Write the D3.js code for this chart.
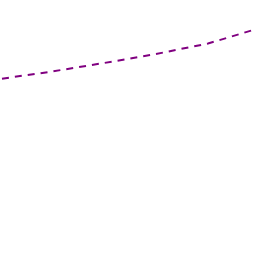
<!DOCTYPE html>
<html>
<head>
<meta charset="utf-8">
<script src="https://cdn.jsdelivr.net/npm/d3@7"></script>
<style>
  body { margin: 0; background: #fff; }
  svg { display: block; }
</style>
</head>
<body>
<svg width="256" height="256"></svg>
<script>
var xs = [0, 1, 2, 3, 4, 5];
var values = [17.7, 18.45, 19.3, 20.2, 21.25, 22.8];

var svg = d3.select("svg"),
    width = +svg.attr("width"),
    height = +svg.attr("height");

var x = d3.scaleLinear().domain([0, 5]).range([0, 260]);
var y = d3.scaleLinear().domain([0, 25.6]).range([height, 0]);

var line = d3.line()
    .x(function(d, i) { return x(xs[i]); })
    .y(function(d) { return y(d); });

svg.append("path")
    .datum(values)
    .attr("fill", "none")
    .attr("stroke", "#800080")
    .attr("stroke-width", 2)
    .attr("stroke-dasharray", "7,6")
    .attr("stroke-dashoffset", 11)
    .attr("d", line);
</script>
</body>
</html>
